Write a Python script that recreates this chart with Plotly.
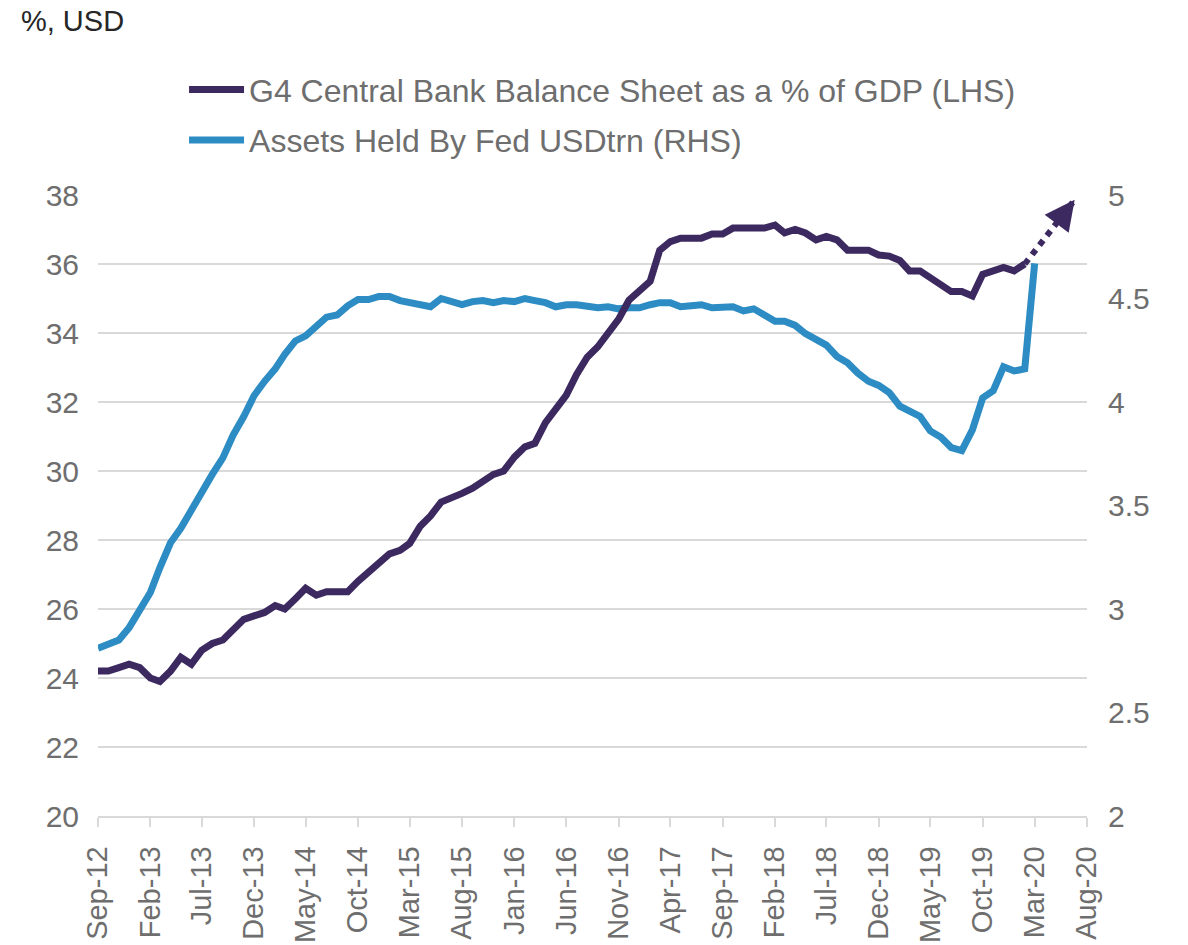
import pandas as pd
import plotly.graph_objects as go

# G4 Central Bank Balance Sheet as % of GDP (LHS), monthly from Sep-12 to Feb-20
g4_pct_gdp = [
    24.2, 24.2, 24.3, 24.4, 24.3, 24.0, 23.9, 24.2, 24.6, 24.4,
    24.8, 25.0, 25.1, 25.4, 25.7, 25.8, 25.9, 26.1, 26.0, 26.3,
    26.6, 26.4, 26.5, 26.5, 26.5, 26.8, 27.05, 27.3, 27.6, 27.7,
    27.9, 28.4, 28.7, 29.1, 29.2, 29.35, 29.5, 29.7, 29.9, 30.0,
    30.4, 30.7, 30.8, 31.4, 31.8, 32.2, 32.8, 33.3, 33.6, 34.0,
    34.4, 34.95, 35.2, 35.5, 36.4, 36.65, 36.75, 36.75, 36.75, 36.87,
    36.87, 37.04, 37.04, 37.04, 37.04, 37.13, 36.9, 37.0, 36.9, 36.7,
    36.8, 36.7, 36.4, 36.4, 36.4, 36.26, 36.23, 36.1, 35.8, 35.8,
    35.6, 35.4, 35.2, 35.2, 35.07, 35.7, 35.8, 35.9, 35.8, 36.0,
]

# Assets held by Fed, USD trn (RHS), monthly from Sep-12 to Mar-20
fed_assets = [
    2.81, 2.83, 2.85, 2.91, 3.00, 3.08, 3.20, 3.32, 3.39, 3.48,
    3.575, 3.65, 3.73, 3.84, 3.93, 4.03, 4.10, 4.16, 4.23, 4.295,
    4.32, 4.37, 4.41, 4.42, 4.465, 4.495, 4.495, 4.51, 4.51, 4.49,
    4.48, 4.47, 4.46, 4.50, 4.485, 4.47, 4.485, 4.49, 4.48, 4.49,
    4.485, 4.50, 4.49, 4.48, 4.46, 4.47, 4.47, 4.46, 4.455, 4.46,
    4.45, 4.455, 4.455, 4.47, 4.48, 4.48, 4.46, 4.465, 4.47, 4.455,
    4.46, 4.46, 4.44, 4.45, 4.42, 4.39, 4.39, 4.37, 4.33, 4.30,
    4.275, 4.22, 4.19, 4.14, 4.10, 4.08, 4.045, 3.98, 3.96, 3.93,
    3.86, 3.83, 3.78, 3.765, 3.865, 4.02, 4.055, 4.17, 4.15, 4.16,
    4.67,
]

# projected direction of G4 balance sheet (dotted arrow)
proj_dates = ["2020-02-01", "2020-06-26"]
proj_vals = [36.0, 37.86]

start_month = "2012-09-01"
axis_start = "2012-09-01"
axis_end = "2020-08-01"

g4_dates = pd.date_range(start=start_month, periods=len(g4_pct_gdp), freq="MS")
fed_dates = pd.date_range(start=start_month, periods=len(fed_assets), freq="MS")
tick_dates = pd.date_range(start=axis_start, end=axis_end, freq="5MS")
tick_labels = [d.strftime("%b-%y") for d in tick_dates]

PURPLE = "#3C295F"
BLUE = "#2C8CC3"
GRID = "#D9D9D9"
TXT = "#6E6E6E"
FONT = "Liberation Sans, Arial, sans-serif"

fig = go.Figure()

fig.add_trace(go.Scatter(
    x=fed_dates, y=fed_assets, mode="lines", yaxis="y",
    name="Assets Held By Fed USDtrn (RHS)", legendgroup="b",
    line=dict(color=BLUE, width=7), legendrank=2,
))
fig.add_trace(go.Scatter(
    x=g4_dates, y=g4_pct_gdp, mode="lines", yaxis="y2",
    name="G4 Central Bank Balance Sheet as a % of GDP (LHS)", legendgroup="a",
    line=dict(color=PURPLE, width=7), legendrank=1,
))
fig.add_trace(go.Scatter(
    x=pd.to_datetime(proj_dates), y=proj_vals, mode="lines", yaxis="y2",
    showlegend=False, hoverinfo="skip", legendgroup="a",
    line=dict(color=PURPLE, width=6, dash="dot"),
))

fig.add_annotation(
    x=pd.to_datetime(proj_dates[-1]), y=proj_vals[-1], xref="x", yref="y2",
    ax=-9, ay=12, showarrow=True, arrowhead=2, arrowsize=1.2,
    arrowwidth=5, arrowcolor=PURPLE, text="",
)

fig.update_layout(
    width=1180, height=937,
    margin=dict(l=90, r=101, t=187, b=129, autoexpand=False),
    paper_bgcolor="white", plot_bgcolor="white",
    font=dict(family=FONT, size=30, color=TXT),
    title=dict(
        text="%, USD", xref="container", yref="container",
        x=0.011, y=0.986, xanchor="left", yanchor="middle",
        font=dict(family=FONT, size=29, color="#262626"),
    ),
    showlegend=True,
    legend=dict(
        xref="paper", yref="paper", x=0.087, y=1.214,
        xanchor="left", yanchor="top",
        font=dict(family=FONT, size=32, color=TXT),
        itemwidth=55, tracegroupgap=6, bgcolor="rgba(0,0,0,0)",
        traceorder="grouped",
    ),
    xaxis=dict(
        type="date", range=[axis_start, axis_end], automargin=False,
        tickvals=tick_dates, ticktext=tick_labels, tickangle=-90,
        showgrid=False, showline=True, linecolor=GRID, linewidth=1.5,
        ticks="outside", ticklen=9, tickcolor=GRID, tickwidth=1.5,
        tickfont=dict(size=29, color=TXT), zeroline=False,
        ticklabelstandoff=8,
    ),
    yaxis=dict(
        side="right", range=[2, 5], dtick=0.5, showgrid=False,
        zeroline=False, showline=False, ticks="", automargin=False,
        tickfont=dict(size=30, color=TXT), ticklabelstandoff=20,
    ),
    yaxis2=dict(
        side="left", overlaying="y", range=[20, 38], dtick=2,
        showgrid=True, gridcolor=GRID, gridwidth=1.5, automargin=False,
        zeroline=False, showline=False, ticks="",
        tickfont=dict(size=30, color=TXT), ticklabelstandoff=18,
    ),
)

fig.write_html("out.html")
